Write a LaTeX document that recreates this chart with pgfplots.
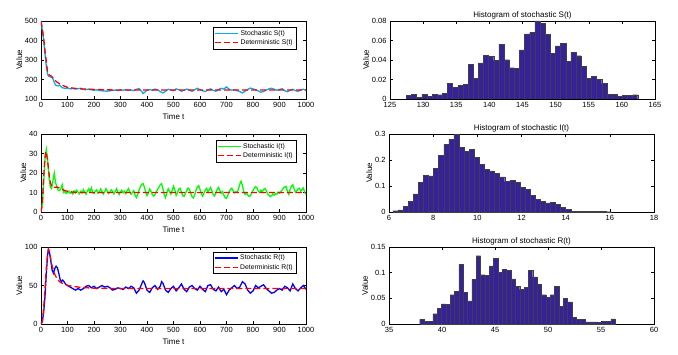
\documentclass[border=0pt]{standalone}
\usepackage{fontspec}
\setmainfont{Liberation Sans}
\usepackage{pgfplots}
\pgfplotsset{compat=1.18}

\definecolor{histc}{RGB}{54,32,156}

\tikzset{
  stoch/.style={line width=1.3pt},
  determ/.style={red, line width=1.3pt, dash pattern=on 6pt off 3pt},
}

\pgfplotsset{
  panel/.style={
    scale only axis,
    width=265pt,
    axis line style={black, line width=0.5pt},
    tick align=inside,
    major tick length=3pt,
    tick style={black, line width=0.4pt},
    xtick pos=both, ytick pos=both,
    tick label style={font=\fontsize{7.5}{8}\selectfont},
    label style={font=\fontsize{8}{9}\selectfont},
    title style={font=\fontsize{8}{9}\selectfont, yshift=-8pt},
    /pgf/number format/assume math mode=true,
    /pgf/number format/1000 sep={},
    scaled ticks=false,
    ylabel={Value},
  },
  tpanel/.style={
    panel,
    xmin=0, xmax=1000,
    xtick={0,100,...,1000},
    xlabel={Time t},
    xlabel style={yshift=1pt},
    ylabel style={yshift=-4pt},
    legend style={draw=black, fill=white, line width=0.4pt,
      font=\fontsize{6.8}{7}\selectfont, at={(0.962,0.923)}, anchor=north east,
      inner sep=1pt, row sep=-1pt},
    legend cell align=left,
  },
  hpanel/.style={
    panel,
    ylabel style={yshift=-4pt},
    yticklabel style={/pgf/number format/fixed, /pgf/number format/precision=2},
  },
  hbar/.style={ybar interval, fill=histc, draw=black!75, line width=0.4pt},
}

\begin{document}
\begin{tikzpicture}
\useasboundingbox (0pt,0pt) rectangle (678pt,354pt);

% ---------- S(t) ----------
\begin{axis}[tpanel, at={(41pt,255pt)}, anchor=south west, height=78pt,
  ymin=100, ymax=500, ytick={100,200,...,500}]
\addlegendimage{cyan, line width=1.3pt, legend image code/.code={\draw[cyan, line width=1.3pt] (0pt,0pt) -- (23pt,0pt);}}
\addlegendentry{Stochastic S(t)}
\addlegendimage{legend image code/.code={\draw[red, line width=1.3pt, dash pattern=on 6pt off 3pt] (0pt,0pt) -- (23pt,0pt);}}
\addlegendentry{Deterministic S(t)}
\addplot[stoch, cyan, forget plot] coordinates {
(0,500)(5,452)(10,402)(15,332)(20,270)(25,226)(30,216)(35,213)(40,214)(45,204)
(50,186)(55,172)(60,168)(65,168)(70,170)(75,165)(80,158)(90,155)(100,156)(110,152)
(120,154)(130,151)(140,153)(150,155)(160,149)(170,148)(180,151)(190,147)(200,145)(210,147)
(220,144)(230,142)(240,141)(250,140)(260,142)(270,144)(280,146)(290,143)(300,147)(310,145)
(320,148)(330,144)(340,146)(350,143)(360,150)(370,153)(380,139)(385,128)(390,133)(400,146)
(410,149)(420,144)(430,151)(440,147)(450,138)(460,131)(470,140)(480,150)(490,146)(500,142)
(510,152)(520,148)(530,140)(540,145)(550,151)(560,146)(570,139)(580,148)(590,155)(600,148)
(610,142)(620,138)(630,147)(640,152)(650,144)(660,140)(670,149)(680,155)(690,151)(700,162)
(710,150)(720,145)(730,148)(740,143)(750,138)(760,131)(770,140)(780,149)(790,156)(800,152)
(810,147)(820,141)(830,135)(840,138)(850,146)(860,152)(870,155)(880,150)(890,145)(900,149)
(910,153)(920,142)(930,137)(940,145)(950,150)(960,143)(970,139)(980,147)(990,150)(1000,145)
};
\addplot[determ, forget plot] coordinates {
(0,500)(5,460)(10,413)(15,350)(20,293)(25,237)(30,225)(40,216)(50,199)(60,187)
(75,173)(100,160)(125,155)(150,152)(200,149)(250,147)(300,146)(1000,146)
};
\end{axis}

\begin{axis}[hpanel, at={(390pt,255pt)}, anchor=south west, height=78pt,
  xmin=125, xmax=165, xtick={125,130,...,165},
  ymin=0, ymax=0.08, ytick={0,0.02,0.04,0.06,0.08},
  title={Histogram of stochastic S(t)}]
\addplot[hbar] coordinates {
(127.47,0.0038)(128.25,0.0048)(129.02,0.0020)(129.80,0.0050)(130.57,0.0030)
(131.35,0.0048)(132.13,0.0044)(132.90,0.0058)(133.68,0.0160)(134.45,0.0116)
(135.23,0.0140)(136.01,0.0150)(136.78,0.0356)(137.56,0.0215)(138.33,0.0370)
(139.11,0.0448)(139.89,0.0434)(140.66,0.0397)(141.44,0.0564)(142.21,0.0403)
(142.99,0.0321)(143.77,0.0315)(144.54,0.0503)(145.32,0.0667)(146.09,0.0680)
(146.87,0.0800)(147.65,0.0776)(148.42,0.0663)(149.20,0.0468)(149.97,0.0544)
(150.75,0.0574)(151.53,0.0383)(152.30,0.0479)(153.08,0.0444)(153.85,0.0335)
(154.63,0.0215)(155.41,0.0232)(156.18,0.0202)(156.96,0.0157)(157.73,0.0051)
(158.51,0.0051)(159.29,0.0030)(160.06,0.0034)(160.84,0.0040)(161.61,0.0044)
(162.39,0)
};
\end{axis}

% ---------- I(t) ----------
\begin{axis}[tpanel, at={(41pt,142pt)}, anchor=south west, height=78pt,
  ymin=0, ymax=40, ytick={0,10,...,40}]
\addlegendimage{legend image code/.code={\draw[green, line width=1.3pt] (0pt,0pt) -- (23pt,0pt);}}
\addlegendentry{Stochastic I(t)}
\addlegendimage{legend image code/.code={\draw[red, line width=1.3pt, dash pattern=on 6pt off 3pt] (0pt,0pt) -- (23pt,0pt);}}
\addlegendentry{Deterministic I(t)}
\addplot[stoch, green, forget plot] coordinates {
(0,0.5)(5,4)(10,15)(15,27)(20,32)(25,27)(30,18)(35,13)(40,12)(45,16)
(50,20)(55,15)(60,13)(65,11)(70,11)(75,12)(80,14)(85,10)(90,10.5)(95,9.5)
(100,10)(105,10.8)(110,9.6)(115,10.4)(120,9.2)(125,10.9)(130,9.8)(135,11.2)(140,10.1)(145,9.3)
(150,10.6)(155,9.7)(160,11.5)(165,10.2)(170,9.1)(175,10.8)(180,11.9)(185,10.4)(190,12.4)(195,10.0)
(200,9.4)(205,10.7)(210,11.3)(215,9.6)(220,10.2)(225,11.8)(230,10.5)(235,9.2)(240,10.3)(245,12.0)
(250,10.8)(255,9.5)(260,10.1)(265,11.4)(270,10.6)(275,9.3)(280,10.5)(285,11.9)(290,10.2)(295,9.0)
(300,10.4)(305,11.2)(310,9.8)(315,10.6)(320,9.4)(325,10.9)(330,12.0)(335,10.3)(340,9.1)(345,10.0)
(350,11.0)(355,8.6)(360,7.4)(365,9.0)(370,11.2)(375,13.0)(380,14.2)(385,14.6)(390,12.8)(395,10.2)
(400,8.4)(405,9.6)(410,11.8)(415,10.5)(420,9.0)(425,8.2)(430,8.9)(435,10.4)(440,11.5)(445,12.6)
(450,14.0)(455,14.5)(460,12.0)(465,9.0)(470,7.4)(475,9.8)(480,11.9)(485,10.6)(490,9.2)(495,11.0)
(500,13.2)(505,11.4)(510,8.5)(515,9.9)(520,11.8)(525,12.2)(530,10.1)(535,8.4)(540,8.0)(545,9.6)
(550,11.0)(555,12.3)(560,11.7)(565,9.5)(570,7.8)(575,7.2)(580,8.9)(585,11.2)(590,12.8)(595,13.5)
(600,11.6)(605,9.4)(610,8.1)(615,9.7)(620,11.3)(625,12.1)(630,10.5)(635,11.4)(640,12.6)(645,10.8)
(650,8.8)(655,8.2)(660,9.9)(665,11.6)(670,12.6)(675,11.0)(680,9.6)(685,10.5)(690,8.7)(695,7.3)
(700,7.0)(705,8.6)(710,10.4)(715,11.6)(720,12.2)(725,10.8)(730,9.8)(735,10.4)(740,10.0)(745,11.8)
(750,14.2)(755,15.8)(760,13.6)(765,10.4)(770,9.0)(775,9.8)(780,8.8)(785,8.0)(790,8.3)(795,9.7)
(800,11.0)(805,12.2)(810,13.0)(815,12.4)(820,10.6)(825,10.0)(830,11.2)(835,10.3)(840,11.6)(845,12.1)
(850,11.0)(855,9.4)(860,8.6)(865,7.9)(870,8.2)(875,9.3)(880,8.6)(885,9.5)(890,9.1)(895,10.2)
(900,9.6)(905,10.4)(910,11.3)(915,12.4)(920,12.8)(925,13.1)(930,10.6)(935,9.0)(940,11.5)(945,13.2)
(950,14.0)(955,12.0)(960,10.1)(965,10.8)(970,11.9)(975,12.2)(980,10.7)(985,11.4)(990,12.3)(995,10.2)
(1000,9.1)
};
\addplot[determ, forget plot] coordinates {
(0,0)(5,4)(10,18)(15,28)(18,31)(20,30.5)(25,26)(30,20)(35,15.5)(40,13)
(45,12.4)(50,12.6)(60,12.8)(70,12.3)(80,11.6)(90,11.0)(100,10.6)(120,10.2)(150,10.0)(1000,10.0)
};
\end{axis}

\begin{axis}[hpanel, at={(389pt,142pt)}, anchor=south west, height=78pt,
  xmin=6, xmax=18, xtick={6,8,...,18},
  ymin=0, ymax=0.3, ytick={0,0.1,0.2,0.3},
  title={Histogram of stochastic I(t)}]
\addplot[hbar] coordinates {
(6.18,0.005)(6.41,0.008)(6.64,0.022)(6.87,0.040)(7.10,0.070)
(7.33,0.113)(7.56,0.140)(7.79,0.139)(8.02,0.167)(8.25,0.217)
(8.48,0.260)(8.71,0.280)(8.94,0.300)(9.17,0.248)(9.40,0.233)
(9.63,0.240)(9.86,0.210)(10.09,0.183)(10.32,0.163)(10.55,0.158)
(10.78,0.150)(11.01,0.135)(11.24,0.117)(11.47,0.123)(11.70,0.114)
(11.93,0.095)(12.16,0.087)(12.39,0.065)(12.62,0.050)(12.85,0.042)
(13.08,0.035)(13.31,0.038)(13.54,0.030)(13.77,0.017)(14.00,0.010)
(14.23,0.003)(14.46,0.002)(14.69,0.002)(14.92,0.002)(15.15,0.002)
(15.38,0.002)(15.61,0.002)(15.84,0.001)(16.07,0)
};
\end{axis}

% ---------- R(t) ----------
\begin{axis}[tpanel, at={(41pt,30pt)}, anchor=south west, height=77pt,
  ymin=0, ymax=100, ytick={0,50,100},
  legend style={at={(0.962,0.94)}}]
\addlegendimage{legend image code/.code={\draw[blue, line width=1.3pt] (0pt,0pt) -- (23pt,0pt);}}
\addlegendentry{Stochastic R(t)}
\addlegendimage{legend image code/.code={\draw[red, line width=1.3pt, dash pattern=on 6pt off 3pt] (0pt,0pt) -- (23pt,0pt);}}
\addlegendentry{Deterministic R(t)}
\addplot[stoch, blue, forget plot] coordinates {
(0,0)(5,3)(10,15)(15,35)(20,65)(25,90)(28,97)(32,93)(37,82)(42,70)
(47,66)(52,72)(57,75)(62,73)(67,66)(72,58)(77,55)(82,57)(87,55)(92,52)
(100,50)(110,48)(120,46)(130,44)(140,46)(150,44)(160,46)(170,49)(180,50)(190,47)
(200,49)(210,46)(220,48)(230,50)(240,48)(250,49)(260,47)(270,44)(280,45)(290,47)
(300,46)(310,45)(320,48)(330,46)(340,49)(350,47)(360,40)(370,44)(380,52)(385,56)
(390,54)(400,44)(410,41)(420,47)(430,50)(440,45)(450,49)(455,55)(460,53)(470,44)
(480,41)(490,46)(500,49)(510,43)(520,47)(530,52)(540,45)(550,42)(560,48)(570,50)
(580,46)(590,44)(600,49)(610,45)(620,42)(630,50)(640,51)(650,45)(660,43)(670,48)
(680,42)(690,45)(700,38)(710,44)(720,47)(730,50)(740,46)(750,48)(760,55)(770,52)
(780,44)(790,40)(800,43)(810,50)(820,47)(830,49)(840,51)(850,46)(860,43)(870,40)
(880,41)(890,44)(900,46)(910,44)(920,49)(930,47)(940,43)(950,52)(960,46)(970,43)
(980,47)(990,50)(1000,45)
};
\addplot[determ, forget plot] coordinates {
(0,0)(5,3)(10,21)(15,45)(20,73)(25,92)(28,97)(32,94)(40,78)(50,66)
(60,59)(70,55)(80,53)(100,50)(150,47.5)(200,46.5)(300,46)(1000,46)
};
\end{axis}

\begin{axis}[hpanel, at={(389pt,30pt)}, anchor=south west, height=77pt,
  xmin=35, xmax=60, xtick={35,40,...,60},
  ymin=0, ymax=0.15, ytick={0,0.05,0.1,0.15},
  title={Histogram of stochastic R(t)}]
\addplot[hbar] coordinates {
(37.90,0.009)(38.31,0.005)(38.72,0.005)(39.13,0.020)(39.54,0.031)
(39.95,0.039)(40.36,0.038)(40.77,0.057)(41.18,0.064)(41.59,0.116)
(42.00,0.062)(42.41,0.045)(42.82,0.087)(43.23,0.133)(43.64,0.096)
(44.05,0.095)(44.46,0.113)(44.87,0.128)(45.28,0.100)(45.69,0.107)
(46.10,0.105)(46.51,0.088)(46.92,0.073)(47.33,0.067)(47.74,0.072)
(48.15,0.105)(48.56,0.092)(48.97,0.077)(49.38,0.057)(49.79,0.052)
(50.20,0.057)(50.61,0.074)(51.02,0.034)(51.43,0.050)(51.84,0.043)
(52.25,0.013)(52.66,0.009)(53.07,0.009)(53.48,0.004)(53.89,0.004)
(54.30,0.004)(54.71,0.003)(55.12,0.005)(55.53,0.005)(55.94,0.010)
(56.35,0)
};
\end{axis}
\end{tikzpicture}
\end{document}
